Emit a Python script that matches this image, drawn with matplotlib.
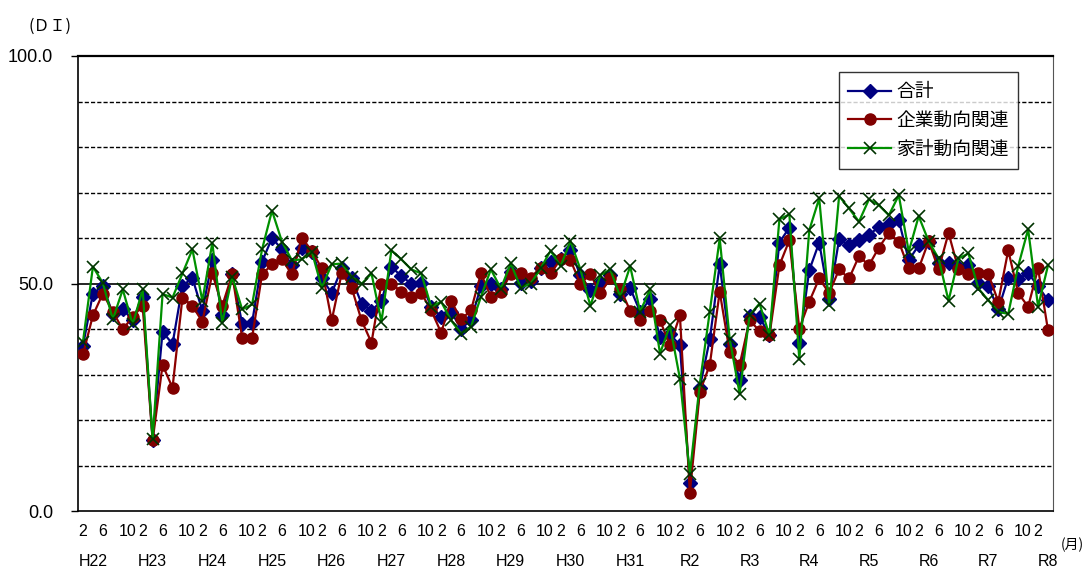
import matplotlib.pyplot as plt
import numpy as np

plt.rcParams['font.family'] = ['Liberation Sans', 'Noto Sans CJK JP']
plt.rcParams['figure.dpi'] = 100

# bimonthly survey, H22/2 .. R8/4
total = [36.3, 47.8, 49.4, 43.3, 44.3, 42.0, 47.1, 15.7, 39.4, 36.7,
         49.5, 51.2, 44.0, 55.1, 43.0, 52.0, 41.2, 41.4, 54.8, 60.0,
         57.5, 54.0, 57.7, 57.0, 51.1, 47.9, 53.3, 51.1, 45.6, 44.0,
         46.2, 53.7, 51.6, 50.0, 50.1, 44.9, 42.7, 43.8, 40.1, 41.9,
         49.4, 50.0, 48.9, 52.6, 50.1, 50.6, 53.3, 54.8, 55.3, 57.3,
         51.8, 48.5, 50.1, 51.8, 47.8, 49.0, 43.8, 46.5, 38.3, 38.9,
         36.4, 6.2, 27.1, 37.7, 54.2, 36.8, 28.9, 42.8, 42.7, 38.6,
         59.0, 62.3, 37.0, 52.9, 59.0, 46.5, 59.7, 58.4, 59.5, 60.6,
         62.5, 63.0, 63.9, 55.1, 58.4, 59.2, 54.4, 54.4, 53.7, 54.0,
         50.1, 49.4, 44.3, 51.3, 51.0, 52.3, 49.4, 46.3]
corp = [34.4, 43.0, 47.8, 43.8, 39.9, 42.7, 45.1, 15.5, 32.1, 27.1,
        46.9, 45.1, 41.6, 52.2, 45.1, 52.0, 38.1, 38.1, 52.0, 54.2,
        55.3, 52.0, 60.0, 57.2, 53.3, 41.9, 52.2, 49.1, 41.9, 37.0,
        50.0, 50.0, 48.2, 47.1, 47.9, 44.1, 39.2, 46.2, 42.1, 44.1,
        52.2, 47.1, 48.2, 52.1, 52.2, 51.3, 53.5, 52.2, 55.3, 55.1,
        50.0, 52.0, 47.9, 51.1, 48.9, 44.0, 41.9, 44.0, 41.9, 36.4,
        43.0, 4.0, 26.2, 32.1, 48.2, 35.0, 32.1, 41.9, 39.6, 38.6,
        54.0, 59.5, 40.1, 46.0, 51.1, 47.9, 53.1, 51.1, 56.0, 54.0,
        57.9, 61.1, 59.2, 53.3, 53.3, 59.3, 53.1, 61.1, 53.1, 52.1,
        52.2, 52.1, 46.0, 57.3, 47.9, 44.9, 53.3, 39.7]
household = [37.2, 53.7, 50.1, 42.1, 48.7, 41.0, 48.7, 15.8, 47.7, 46.9,
             52.2, 57.5, 46.2, 58.9, 41.4, 51.5, 44.3, 45.4, 57.5, 66.0,
             59.2, 55.1, 55.3, 57.0, 49.1, 54.2, 54.4, 51.5, 49.9, 52.2,
             41.6, 57.3, 55.3, 53.1, 52.2, 44.9, 46.0, 41.9, 39.0, 40.5,
             47.1, 53.1, 48.9, 54.4, 49.1, 50.0, 53.3, 57.2, 53.8, 59.3,
             53.1, 45.1, 51.8, 53.1, 47.1, 53.8, 43.8, 48.7, 34.6, 40.8,
             29.1, 8.2, 28.0, 43.8, 59.9, 37.9, 25.8, 43.0, 45.6, 38.6,
             64.1, 65.2, 33.3, 61.7, 68.7, 45.2, 69.2, 66.5, 63.6, 68.5,
             67.2, 65.0, 69.4, 57.0, 64.8, 59.3, 55.5, 46.2, 55.5, 56.6,
             48.9, 46.3, 43.8, 43.3, 53.8, 61.9, 44.9, 54.0]

months = ['2', '6', '10']
years = ['H22', 'H23', 'H24', 'H25', 'H26', 'H27', 'H28', 'H29', 'H30', 'H31',
         'R2', 'R3', 'R4', 'R5', 'R6', 'R7', 'R8']

x = np.arange(len(total))

fig = plt.figure(figsize=(10.88, 5.70))
ax = fig.add_axes([78 / 1088, 1 - 511 / 570, 975 / 1088, 455 / 570])

# grid
for v in range(10, 100, 10):
    if v == 50:
        ax.axhline(v, color='black', lw=1.2, zorder=1)
    else:
        ax.axhline(v, color='black', lw=1.0, dashes=(3, 1.5), zorder=1)

ax.plot(x, total, color='#000080', lw=1.6, marker='D', ms=7,
        mfc='#000080', mec='#000080', label='合計', zorder=3)
ax.plot(x, corp, color='#8b0000', lw=1.6, marker='o', ms=8,
        mfc='#800000', mec='#800000', label='企業動向関連', zorder=4)
ax.plot(x, household, color='#009000', lw=1.6, marker='x', ms=8.5, mew=1.2,
        mec='#003300', label='家計動向関連', zorder=5)

ax.set_xlim(-0.5, len(total) - 0.5)
ax.set_ylim(0, 100)
ax.set_yticks([0, 50, 100])
ax.set_yticklabels(['0.0', '50.0', '100.0'])
ax.tick_params(axis='y', length=5, width=1, pad=13, labelsize=13)
ax.set_xticks([])
for sp in ax.spines.values():
    sp.set_linewidth(1.2)
ax.spines['top'].set_linewidth(1.6)
ax.spines['right'].set_color('#555555')
ax.spines['right'].set_linewidth(0.8)

tr = ax.get_xaxis_transform()
for k, i in enumerate(range(0, len(total), 2)):
    lab = months[k % 3]
    off = 0.45 if lab == '10' else 0
    ax.text(i + off, -0.045, lab, transform=tr, ha='center', va='center',
            fontsize=11.5)
for k, yr in enumerate(years):
    ax.text(1 + 6 * k, -0.112, yr, transform=tr, ha='center', va='center',
            fontsize=11.5)

fig.text(50 / 1088, 1 - 26 / 570, '(ＤＩ)', ha='center', va='center',
         fontsize=11.5, family=['Noto Sans CJK JP'])
fig.text(1072 / 1088, 1 - 545 / 570, '(月)', ha='center', va='center',
         fontsize=10, family=['Noto Sans CJK JP'])

leg = ax.legend(loc='upper right', bbox_to_anchor=(0.964, 0.965),
                fontsize=13.5, frameon=True, fancybox=False, shadow=False,
                handlelength=2.3, handletextpad=0.25, labelspacing=0.4,
                borderpad=0.5, borderaxespad=0)
leg.get_frame().set_edgecolor('black')
leg.get_frame().set_linewidth(1.0)
for t in leg.get_texts():
    t.set_family(['Noto Sans CJK JP'])

fig.savefig('out.png', dpi=100)
